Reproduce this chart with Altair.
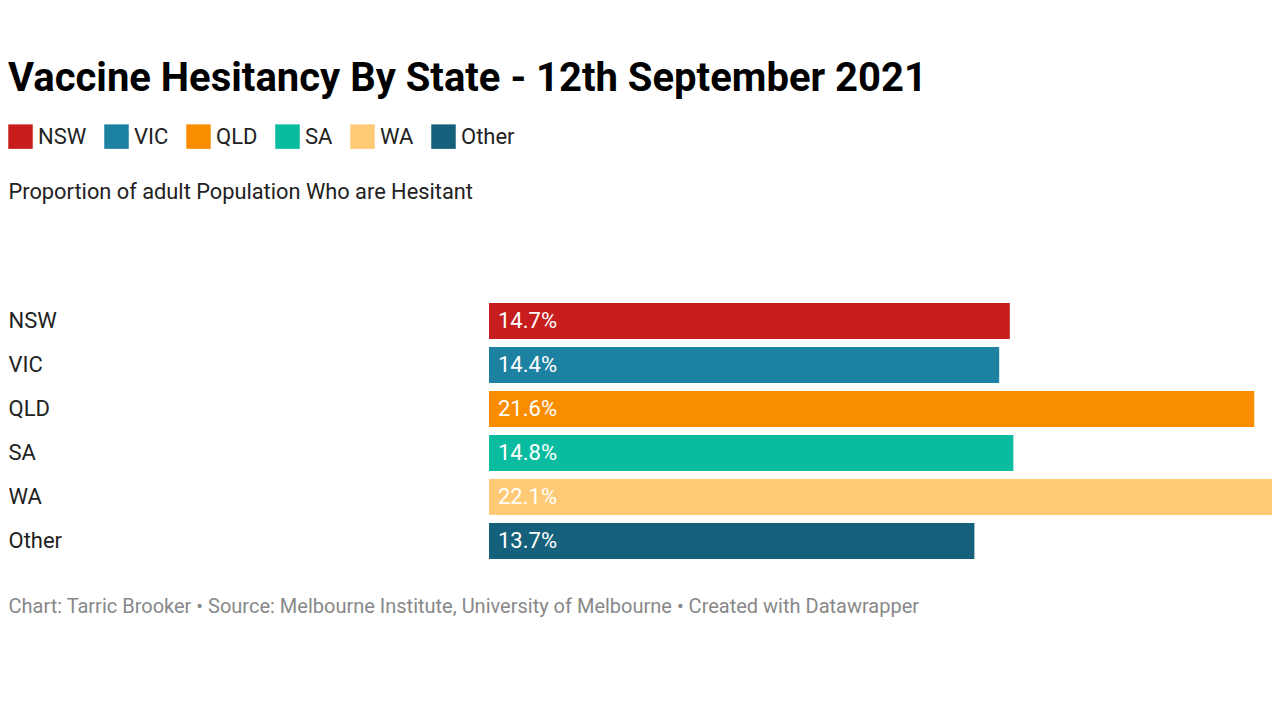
import altair as alt
import pandas as pd

states = ["NSW", "VIC", "QLD", "SA", "WA", "Other"]
values = [14.7, 14.4, 21.6, 14.8, 22.1, 13.7]
labels = ["14.7%", "14.4%", "21.6%", "14.8%", "22.1%", "13.7%"]
colors = ["#c71e1d", "#1d81a2", "#fa8c00", "#09bb9f", "#ffca76", "#15607a"]

title_text = "Vaccine Hesitancy By State - 12th September 2021"
subtitle_text = "Proportion of adult Population Who are Hesitant"
footer_text = "Chart: Tarric Brooker \u2022 Source: Melbourne Institute, University of Melbourne \u2022 Created with Datawrapper"

df = pd.DataFrame({"state": states, "value": values, "label": labels})

FONT = "Roboto"

y_enc = alt.Y(
    "state:N",
    sort=states,
    scale=alt.Scale(paddingInner=8 / 44, paddingOuter=4 / 44),
    axis=alt.Axis(
        title=subtitle_text, titleAngle=0, titleAlign="left",
        titleBaseline="alphabetic", titleX=-481, titleY=-101,
        titleFont=FONT, titleFontSize=21.8, titleFontWeight="normal",
        titleColor="#222222",
        ticks=False, tickSize=0, domain=False, grid=False,
        labelAlign="left", labelPadding=481, labelFont=FONT,
        labelFontSize=22, labelColor="#222222",
    ),
)

x_enc = alt.X(
    "value:Q",
    scale=alt.Scale(domain=[0, 22.1], nice=False, zero=True),
    axis=alt.Axis(
        labels=False, ticks=False, domain=False, grid=False,
        title=footer_text, titleAnchor="start", titleAlign="left",
        titleX=-481, titleY=49, titleBaseline="alphabetic",
        titleFont=FONT, titleFontSize=20, titleFontWeight="normal",
        titleColor="#888888",
    ),
)

color_enc = alt.Color(
    "state:N",
    sort=states,
    scale=alt.Scale(domain=states, range=colors),
    legend=alt.Legend(
        title=None, orient="none", direction="horizontal",
        legendX=-481, legendY=-175,
        symbolType="square", symbolSize=600, symbolStrokeWidth=0,
        symbolOpacity=1, labelFont=FONT, labelFontSize=22,
        labelColor="#222222", labelOffset=5, columnPadding=17,
        padding=0,
    ),
)

bars = alt.Chart(df).mark_bar(cornerRadius=0).encode(
    x=x_enc, y=y_enc, color=color_enc
)

text = alt.Chart(df).mark_text(
    align="left", baseline="middle", dx=9, font=FONT, fontSize=22,
    color="white",
).encode(
    x=alt.datum(0),
    y=alt.Y("state:N", sort=states),
    text="label:N",
)

chart = (
    alt.layer(bars, text)
    .properties(
        width=783,
        height=264,
        background="white",
        autosize=alt.AutoSizeParams(type="none"),
        padding={"left": 481, "top": 291, "right": 0, "bottom": 120},
        title=alt.TitleParams(
            text=title_text,
            anchor="start",
            font=FONT, fontSize=40, fontWeight="bold", color="#000000",
            offset=-7,
            baseline="alphabetic",
        ),
    )
    .configure_view(strokeWidth=0, stroke="transparent")
    .configure_axis(
        grid=False, domain=False, ticks=False,
        gridColor="transparent", domainColor="transparent",
        tickColor="transparent",
    )
)

chart.save("out.html", embed_options={"renderer": "svg", "actions": False})
